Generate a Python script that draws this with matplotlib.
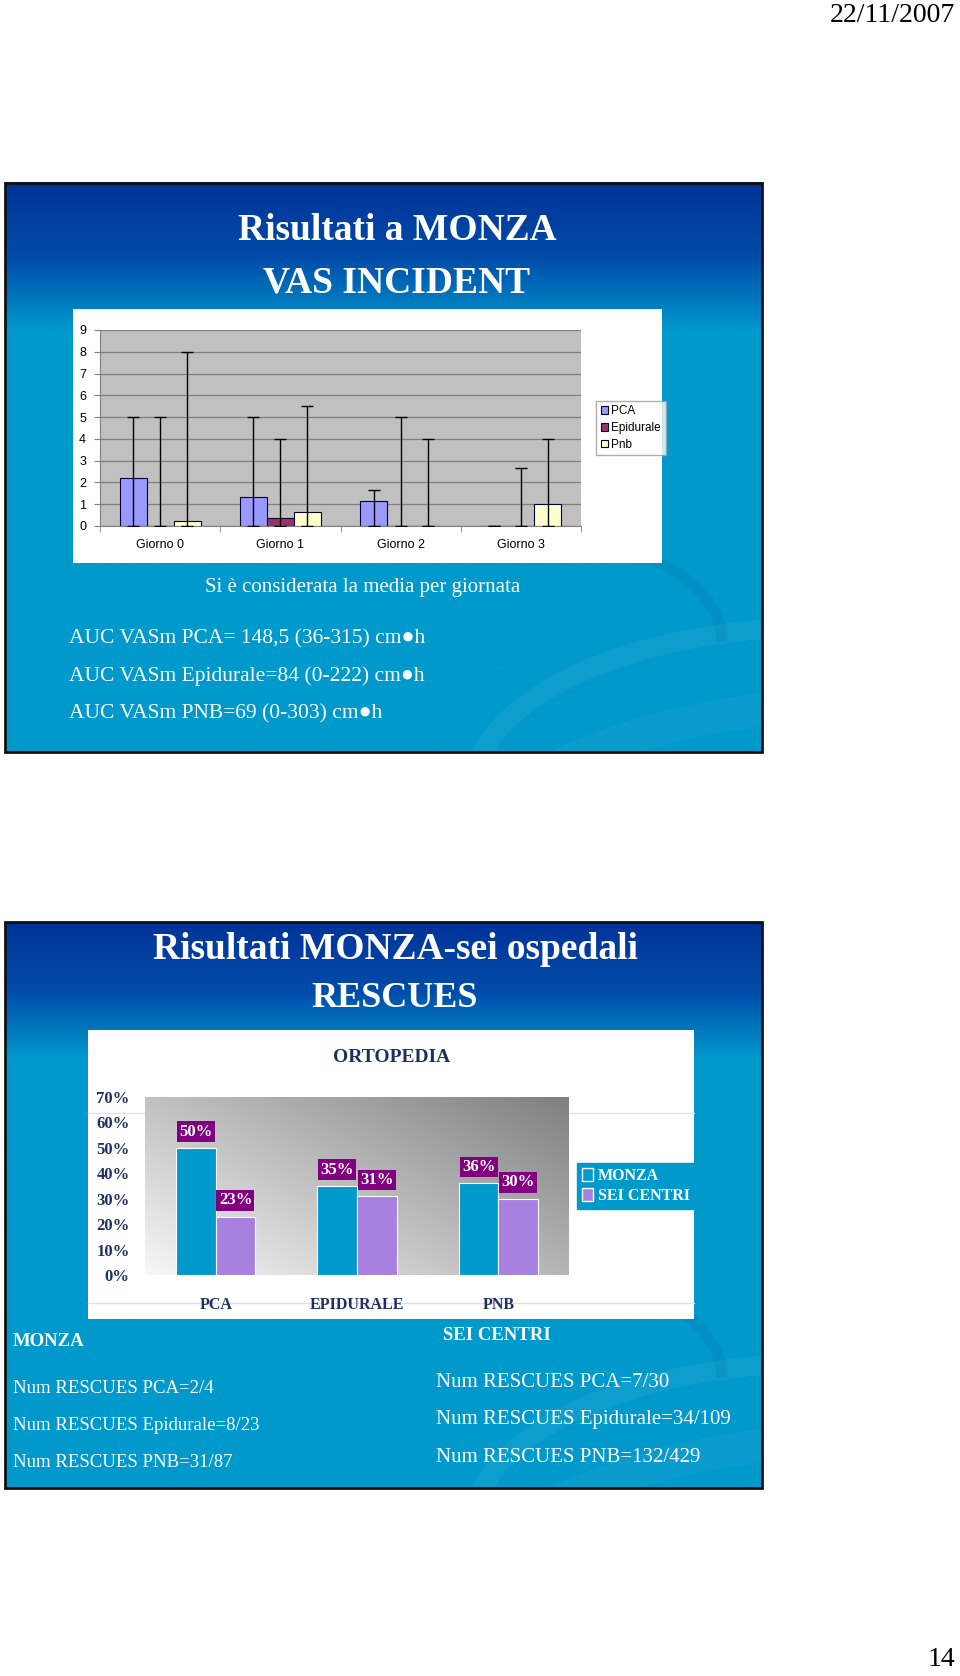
import numpy as np
import matplotlib
matplotlib.use("Agg")
import matplotlib.pyplot as plt
from matplotlib.patches import Rectangle, Patch, Arc

W, H = 960, 1676
SERIF = ["Liberation Serif", "DejaVu Serif"]
SANS = ["Liberation Sans", "DejaVu Sans"]

# --- data: slide 1 (VAS incident) ---
days = ["Giorno 0", "Giorno 1", "Giorno 2", "Giorno 3"]
vas_series = ["PCA", "Epidurale", "Pnb"]
vas_pca = [2.2, 1.35, 1.15, 0.0]
vas_epi = [0.0, 0.35, 0.0, 0.0]
vas_pnb = [0.25, 0.65, 0.0, 1.0]
vas_pca_max = [5, 5, 1.65, 0.0]
vas_epi_max = [5, 4, 5, 2.65]
vas_pnb_max = [8, 5.5, 4, 4]
vas_colors = ["#9999FF", "#993366", "#FFFFCC"]

auc_lines = ["AUC VASm PCA= 148,5 (36-315) cm\u25cfh",
             "AUC VASm Epidurale=84 (0-222) cm\u25cfh",
             "AUC VASm PNB=69 (0-303) cm\u25cfh"]

# --- data: slide 2 (rescues) ---
groups = ["PCA", "EPIDURALE", "PNB"]
rescue_monza = [50, 35, 36]
rescue_sei = [23, 31, 30]
monza_lines = ["Num RESCUES PCA=2/4", "Num RESCUES Epidurale=8/23",
               "Num RESCUES PNB=31/87"]
sei_lines = ["Num RESCUES PCA=7/30", "Num RESCUES Epidurale=34/109",
             "Num RESCUES PNB=132/429"]

fig = plt.figure(figsize=(W / 100, H / 100), dpi=100)
bg = fig.add_axes([0, 0, 1, 1])
bg.set_xlim(0, W)
bg.set_ylim(H, 0)
bg.axis("off")


def px_axes(x0, y0, x1, y1):
    return fig.add_axes([x0 / W, 1 - y1 / H, (x1 - x0) / W, (y1 - y0) / H])


def slide(x0, y0, x1, y1, dark_frac):
    n = 300
    t = np.linspace(0, 1, n)
    top = np.array([0, 51, 153]) / 255
    mid = np.array([0, 100, 185]) / 255
    bot = np.array([0, 153, 204]) / 255
    img = np.zeros((n, 1, 3))
    for c in range(3):
        img[:, 0, c] = np.interp(t, [0, dark_frac * 0.5, dark_frac, 1],
                                 [top[c], top[c] * 0.5 + mid[c] * 0.5, bot[c], bot[c]])
    bg.imshow(img, extent=[x0, x1, y1, y0], aspect="auto", zorder=0)
    rect = Rectangle((x0, y0), x1 - x0, y1 - y0, fill=False, ec="#111111", lw=2, zorder=3)
    bg.add_patch(rect)
    clip = Rectangle((x0, y0), x1 - x0, y1 - y0, transform=bg.transData)
    # soft swoosh bands
    for (cx, cy, w, h, a1, a2, col, al, lw) in [
        (x1 + 60, y1 + 40, 700, 330, 180, 265, "white", 0.06, 14),
        (x1 - 200, y1 - 110, 320, 200, 250, 360, "#0070a8", 0.2, 8),
        (x1 + 120, y1 + 160, 900, 420, 185, 250, "white", 0.04, 24),
    ]:
        arc = Arc((cx, cy), w, h, theta1=a1, theta2=a2, color=col, alpha=al, lw=lw, zorder=1)
        arc.set_clip_path(clip)
        bg.add_patch(arc)
    bg.set_xlim(0, W)
    bg.set_ylim(H, 0)


slide(5, 183, 762, 752, 0.26)
slide(5, 922, 762, 1488, 0.24)

# header / footer
bg.text(955, 15, "22/11/2007", ha="right", va="center", fontsize=20, family=SERIF, color="black")
bg.text(955, 1659, "14", ha="right", va="center", fontsize=20, family=SERIF, color="black")

# ---- slide 1 ----
bg.text(397, 231, "Risultati a MONZA", ha="center", va="center", fontsize=27,
        weight="bold", family=SERIF, color="white", zorder=4)
bg.text(397, 283, "VAS INCIDENT", ha="center", va="center", fontsize=27,
        weight="bold", family=SERIF, color="white", zorder=4)
bg.add_patch(Rectangle((73, 309), 662 - 73, 563 - 309, fc="white", ec="none", zorder=2))

ax1 = px_axes(100, 330, 581, 526)
ax1.set_facecolor("#C0C0C0")
x = np.arange(len(days))
bw = 0.225
series = [(vas_pca, vas_pca_max), (vas_epi, vas_epi_max), (vas_pnb, vas_pnb_max)]
for i, (vals, tops) in enumerate(series):
    pos = x + (i - 1) * bw
    ax1.bar(pos, vals, width=bw, color=vas_colors[i], edgecolor="#000033",
            lw=0.8, label=vas_series[i], zorder=3)
    vals = np.array(vals)
    tops = np.array(tops)
    ax1.errorbar(pos, vals, yerr=[vals, tops - vals], fmt="none", ecolor="black",
                 elinewidth=1, capsize=4, capthick=1, zorder=4)
ax1.set_xlim(-0.5, len(days) - 0.5)
ax1.set_ylim(0, 9)
ax1.set_yticks(range(10))
ax1.yaxis.grid(True, color="#808080", lw=0.9)
ax1.set_axisbelow(True)
ax1.set_xticks(x)
ax1.set_xticklabels(days, fontsize=9, family=SANS)
ax1.set_xticks(np.arange(-0.5, len(days)), minor=True)
ax1.tick_params(axis="x", which="major", length=0, pad=9)
ax1.tick_params(axis="x", which="minor", length=4, color="#808080")
ax1.tick_params(axis="y", length=4, color="#808080", labelsize=9, pad=6)
for lab in ax1.get_yticklabels():
    lab.set_family(SANS)
for s in ["top", "right"]:
    ax1.spines[s].set_visible(False)
for s in ["left", "bottom"]:
    ax1.spines[s].set_color("#808080")
leg1 = ax1.legend(loc="center left", bbox_to_anchor=(590 / W, 1 - 428 / H),
                  bbox_transform=fig.transFigure, prop={"family": SANS, "size": 8.5},
                  frameon=True, fancybox=False, edgecolor="#999999",
                  handlelength=0.6, handleheight=0.6, handletextpad=0.3,
                  borderpad=0.4, labelspacing=0.4)
for p in leg1.get_patches():
    p.set_edgecolor("#000033")

bg.text(363, 587, "Si \u00e8 considerata la media per giornata", ha="center", va="center",
        fontsize=15, family=SERIF, color="white", zorder=4)
for i, line in enumerate(auc_lines):
    bg.text(69, 639 + i * 37.5, line, ha="left", va="center", fontsize=15.5,
            family=SERIF, color="white", zorder=4)

# ---- slide 2 ----
bg.text(395, 949, "Risultati MONZA-sei ospedali", ha="center", va="center", fontsize=27,
        weight="bold", family=SERIF, color="white", zorder=4)
bg.text(395, 998, "RESCUES", ha="center", va="center", fontsize=26,
        weight="bold", family=SERIF, color="white", zorder=4)
bg.add_patch(Rectangle((88, 1030), 694 - 88, 1319 - 1030, fc="white", ec="none", zorder=2))
bg.plot([88, 694], [1113, 1113], color="#d8e4ec", lw=1, zorder=2.5)
bg.plot([88, 694], [1303, 1303], color="#d8e4ec", lw=1, zorder=2.5)
bg.text(392, 1057, "ORTOPEDIA", ha="center", va="center", fontsize=14, weight="bold",
        family=SERIF, color="#1F2F5F", zorder=4)

ax2 = px_axes(145, 1097, 569, 1275)
gx, gy = np.meshgrid(np.linspace(0, 1, 200), np.linspace(1, 0, 200))
shade = 0.97 - 0.47 * (0.55 * gx + 0.45 * gy)
ax2.imshow(np.dstack([shade, shade, shade]), extent=[-0.5, 2.5, 0, 70],
           aspect="auto", zorder=0)
xg = np.arange(len(groups))
bw2 = 0.28
ax2.bar(xg - bw2 / 2, rescue_monza, width=bw2, color="#0099CC", edgecolor="white",
        lw=0.8, label="MONZA", zorder=2)
ax2.bar(xg + bw2 / 2, rescue_sei, width=bw2, color="#A881E0", edgecolor="white",
        lw=0.8, label="SEI CENTRI", zorder=2)
for xs, vals in [(xg - bw2 / 2, rescue_monza), (xg + bw2 / 2, rescue_sei)]:
    for xi, v in zip(xs, vals):
        ax2.annotate(f"{v}%", (xi, v), xytext=(0, 6), textcoords="offset points",
                     ha="center", va="bottom", fontsize=12, weight="bold",
                     family=SERIF, color="white", zorder=5,
                     bbox=dict(boxstyle="square,pad=0.14", fc="#800080", ec="none"))
ax2.set_xlim(-0.5, 2.5)
ax2.set_ylim(0, 70)
ax2.set_yticks(range(0, 71, 10))
ax2.set_yticklabels([f"{v}%" for v in range(0, 71, 10)])
ax2.set_xticks(xg)
ax2.set_xticklabels(groups)
ax2.tick_params(axis="y", length=0, pad=11, labelsize=12, labelcolor="#1F2F5F")
ax2.tick_params(axis="x", length=0, pad=16, labelsize=11.5, labelcolor="#1F2F5F")
for lab in ax2.get_yticklabels() + ax2.get_xticklabels():
    lab.set_family(SERIF)
    lab.set_weight("bold")
for s in ax2.spines.values():
    s.set_visible(False)
handles = [Patch(fc="#0099CC", ec="white", lw=1), Patch(fc="#A881E0", ec="white", lw=1)]
leg2 = ax2.legend(handles, ["MONZA", "SEI CENTRI"], loc="center left",
                  bbox_to_anchor=(577 / W, 1 - 1186 / H), bbox_transform=fig.transFigure,
                  prop={"family": SERIF, "size": 11.5, "weight": "bold"},
                  frameon=True, fancybox=False, facecolor="#0099CC", edgecolor="#0099CC",
                  framealpha=1, handlelength=0.7, handleheight=0.8, handletextpad=0.3,
                  borderpad=0.3, labelspacing=0.25, borderaxespad=0)
for t in leg2.get_texts():
    t.set_color("white")

bg.text(13, 1341, "MONZA", ha="left", va="center", fontsize=13.5, weight="bold",
        family=SERIF, color="white", zorder=4)
bg.text(443, 1335, "SEI CENTRI", ha="left", va="center", fontsize=13.5, weight="bold",
        family=SERIF, color="white", zorder=4)
for i, line in enumerate(monza_lines):
    bg.text(13, 1388 + i * 37, line, ha="left", va="center", fontsize=13.5,
            family=SERIF, color="white", zorder=4)
for i, line in enumerate(sei_lines):
    bg.text(436, 1382 + i * 37.5, line, ha="left", va="center", fontsize=15,
            family=SERIF, color="white", zorder=4)

fig.savefig("out.png", dpi=100)
